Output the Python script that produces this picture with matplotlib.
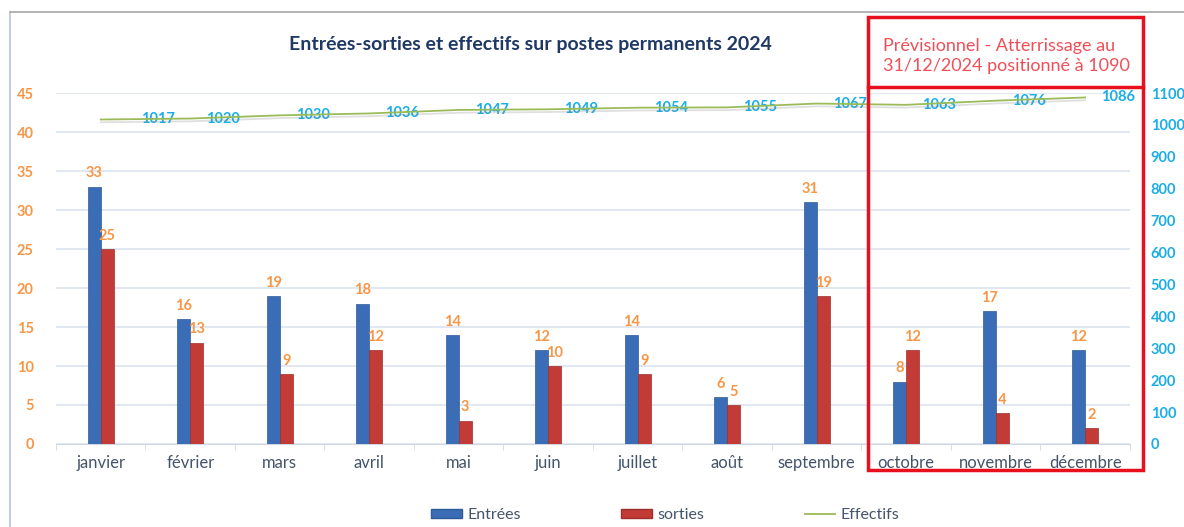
import numpy as np
import matplotlib
matplotlib.use('Agg')
import matplotlib.pyplot as plt
import matplotlib.patheffects as pe
from matplotlib.patches import Rectangle, Patch
from matplotlib.lines import Line2D

plt.rcParams['font.family'] = ['Lato', 'DejaVu Sans']

# données
mois = ['janvier', 'février', 'mars', 'avril', 'mai', 'juin', 'juillet',
        'août', 'septembre', 'octobre', 'novembre', 'décembre']
entrees = [33, 16, 19, 18, 14, 12, 14, 6, 31, 8, 17, 12]
sorties = [25, 13, 9, 12, 3, 10, 9, 5, 19, 12, 4, 2]
effectifs = [1017, 1020, 1030, 1036, 1047, 1049, 1054, 1055, 1067, 1063, 1076, 1086]
left_ticks = [0, 5, 10, 15, 20, 25, 30, 35, 40, 45]
right_ticks = [0, 100, 200, 300, 400, 500, 600, 700, 800, 900, 1000, 1100]

c_blue = '#3A6DB5'
c_red = '#C23B36'
c_orange = '#F79646'
c_cyan = '#1AADE8'
c_green = '#9BBB59'
c_txt = '#44546A'
c_grid = '#DCE4F0'

fig = plt.figure(figsize=(11.84, 5.27), dpi=100)
ax = fig.add_axes([0.0473, 0.1575, 0.907, 0.666])
ax2 = ax.twinx()

x = np.arange(len(mois))
w = 0.145
ax.bar(x - w / 2, entrees, w, color=c_blue, edgecolor='#2E5A97', linewidth=0.5, zorder=3)
ax.bar(x + w / 2, sorties, w, color=c_red, edgecolor='#9E2E2A', linewidth=0.5, zorder=3)

for xi, v in zip(x, entrees):
    ax.text(xi - w / 2, v + 0.8, str(v), ha='center', va='bottom', color=c_orange,
            fontsize=10.5, fontweight='bold')
for xi, v in zip(x, sorties):
    ax.text(xi + w / 2, v + 0.8, str(v), ha='center', va='bottom', color=c_orange,
            fontsize=10.5, fontweight='bold')

ax.set_xlim(-0.5, len(mois) - 0.5)
ax.set_ylim(0, 45)
ax.set_yticks(left_ticks)
ax.yaxis.grid(True, color=c_grid, linewidth=1.2, zorder=0)
ax.set_axisbelow(True)
ax.tick_params(axis='y', length=0, labelcolor=c_orange, labelsize=10.5, pad=16)
for lab in ax.get_yticklabels():
    lab.set_fontweight('bold')
ax.set_xticks(x)
ax.set_xticklabels(mois, color=c_txt, fontsize=12)
ax.set_xticks(np.arange(-0.5, len(mois)), minor=True)
ax.tick_params(axis='x', which='major', length=0, pad=8)
ax.tick_params(axis='x', which='minor', length=4, color='#D0D8E6')
for s in ['top', 'right', 'left']:
    ax.spines[s].set_visible(False)
ax.spines['bottom'].set_color('#D0D8E6')

ax2.plot(x, effectifs, color=c_green, linewidth=1.3, zorder=4,
         path_effects=[pe.SimpleLineShadow(offset=(0, -2), shadow_color='gray', alpha=0.25),
                       pe.Normal()])
for i, (xi, v) in enumerate(zip(x, effectifs)):
    dx = 29 if i == 0 else 11.5
    ax2.annotate(str(v), (xi, v), xytext=(dx, 0), textcoords='offset points',
                 ha='left', va='center', color=c_cyan, fontsize=10.5, fontweight='bold')
ax2.set_ylim(0, 1100)
ax2.set_yticks(right_ticks)
ax2.tick_params(axis='y', length=0, labelcolor=c_cyan, labelsize=10.5, pad=15)
for lab in ax2.get_yticklabels():
    lab.set_fontweight('bold')
for s in ax2.spines.values():
    s.set_visible(False)

fig.text(0.448, 0.915, 'Entrées-sorties et effectifs sur postes permanents 2024',
         ha='center', va='center', fontsize=14, fontweight='bold', color='#1F3864')

# cadre extérieur
fig.add_artist(Line2D([0.0085, 0.0085], [0, 0.977], color='#B8C4D8', linewidth=1.2))
fig.add_artist(Line2D([0.0085, 1.0], [0.977, 0.977], color='#A6A6A6', linewidth=1.2))

# encadré prévisionnel
fig.add_artist(Rectangle((0.733, 0.108), 0.232, 0.86, fill=False, edgecolor='#E8101C', linewidth=2.5))
fig.add_artist(Line2D([0.733, 0.965], [0.835, 0.835], color='#E8101C', linewidth=2.5))
fig.text(0.746, 0.893, 'Prévisionnel - Atterrissage au\n31/12/2024 positionné à 1090',
         ha='left', va='center', fontsize=13, color='#F04F58', linespacing=1.3)

handles = [Patch(facecolor=c_blue, edgecolor='#2E5A97'),
           Patch(facecolor=c_red, edgecolor='#9E2E2A'),
           Line2D([0], [0], color=c_green, linewidth=1.3)]
fig.legend(handles, ['Entrées', 'sorties', 'Effectifs'], loc='center',
           bbox_to_anchor=(0.562, 0.022), ncol=3, frameon=False, fontsize=11.5,
           handlelength=1.9, handleheight=0.45, columnspacing=6.3, handletextpad=0.35,
           labelcolor=c_txt, borderpad=0.1)

fig.savefig('out.png', dpi=100)
